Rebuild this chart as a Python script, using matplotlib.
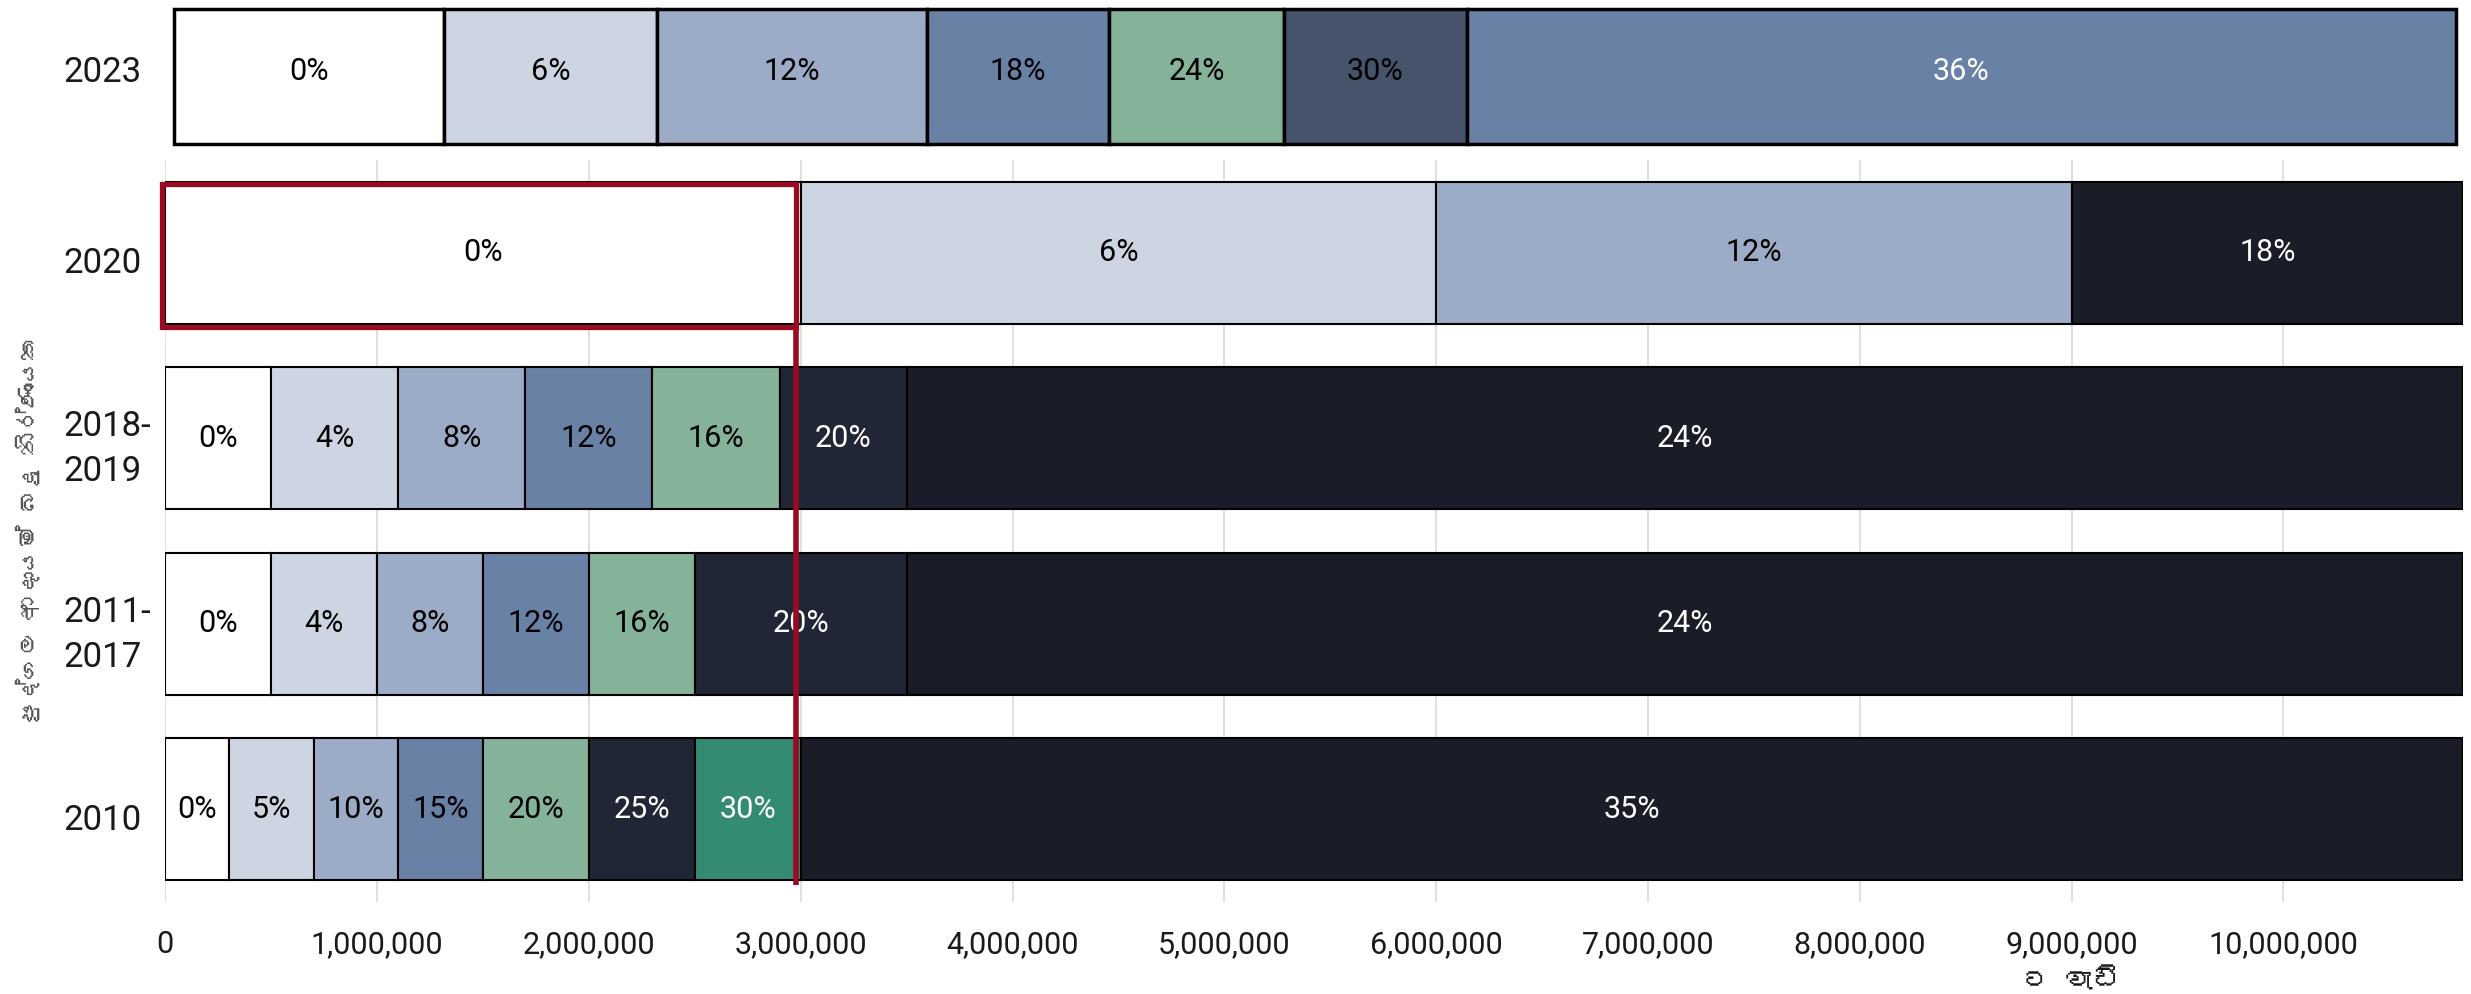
import matplotlib
matplotlib.use('Agg')
import matplotlib.pyplot as plt
from matplotlib import font_manager as fm
from matplotlib.ft2font import FT2Font
from matplotlib.patches import Rectangle
from matplotlib.ticker import FuncFormatter
import matplotlib.transforms as mtrans

plt.rcParams['font.family'] = ['Roboto', 'DejaVu Sans']
plt.rcParams['text.color'] = '#1a1a1a'


def find_family(ch):
    # look for an installed font that has the glyph (Sinhala here)
    for f in fm.fontManager.ttflist:
        try:
            if ord(ch) in FT2Font(f.fname).get_charmap():
                return f.name
        except Exception:
            pass
    return None


sin_fam = find_family('ද')
sin_family = [sin_fam, 'DejaVu Sans'] if sin_fam else ['Roboto', 'DejaVu Sans']

# ---- data ----
chart_end = 10850000  # where the open top bracket is cut off

years = ['2010', '2011-\n2017', '2018-\n2019', '2020']

upper_2010 = [300000, 700000, 1100000, 1500000, 2000000, 2500000, 3000000, chart_end]
rates_2010 = [0, 5, 10, 15, 20, 25, 30, 35]

upper_2011 = [500000, 1000000, 1500000, 2000000, 2500000, 3500000, chart_end]
rates_2011 = [0, 4, 8, 12, 16, 20, 24]

upper_2018 = [500000, 1100000, 1700000, 2300000, 2900000, 3500000, chart_end]
rates_2018 = [0, 4, 8, 12, 16, 20, 24]

upper_2020 = [3000000, 6000000, 9000000, chart_end]
rates_2020 = [0, 6, 12, 18]

# 2023 bar is drawn on its own strip, widths as measured on the picture
widths_2023 = [1275000, 1005000, 1275000, 860000, 826000, 864000, 4670000]
rates_2023 = [0, 6, 12, 18, 24, 30, 36]

xticks = [0, 1000000, 2000000, 3000000, 4000000, 5000000, 6000000,
          7000000, 8000000, 9000000, 10000000]

# ---- styles ----
W = '#ffffff'
L1 = '#ced5e2'
L2 = '#9dacc6'
BL = '#6a81a6'
GR = '#84b39a'
NV = '#212636'
TL = '#338b71'
BK = '#1a1d28'
SL = '#46546b'
RED = '#9b0a23'

fill_2010 = [W, L1, L2, BL, GR, NV, TL, BK]
fill_2011 = [W, L1, L2, BL, GR, NV, BK]
fill_2018 = [W, L1, L2, BL, GR, NV, BK]
fill_2020 = [W, L1, L2, BK]
fill_2023 = [W, L1, L2, BL, GR, SL, BL]

txt_2010 = ['k', 'k', 'k', 'k', 'k', 'w', 'w', 'w']
txt_2011 = ['k', 'k', 'k', 'k', 'k', 'w', 'w']
txt_2018 = ['k', 'k', 'k', 'k', 'k', 'w', 'w']
txt_2020 = ['k', 'k', 'k', 'w']
txt_2023 = ['k', 'k', 'k', 'k', 'k', 'k', 'w']

rows = [(upper_2010, rates_2010, fill_2010, txt_2010),
        (upper_2011, rates_2011, fill_2011, txt_2011),
        (upper_2018, rates_2018, fill_2018, txt_2018),
        (upper_2020, rates_2020, fill_2020, txt_2020)]

fig = plt.figure(figsize=(24.71, 9.94), dpi=100)

# ---- main chart ----
ax = fig.add_axes([0.0669, 0.0926, 0.930, 0.7465])
bar_h = 0.765
for i, (upper, rates, fills, tcols) in enumerate(rows):
    lefts = [0] + upper[:-1]
    widths = [u - l for u, l in zip(upper, lefts)]
    ax.barh(i, widths, left=lefts, height=bar_h, color=fills,
            edgecolor='black', linewidth=1.5, zorder=3)
    for l, w, r, tc in zip(lefts, widths, rates, tcols):
        ax.text(l + w / 2, i, f'{r}%', ha='center', va='center',
                fontsize=22, color=tc, zorder=5)

ax.set_xlim(0, chart_end)
ax.set_ylim(-0.5, 3.5)
ax.set_xticks(xticks)
ax.xaxis.set_major_formatter(FuncFormatter(lambda v, p: f'{int(v):,}'))
ax.tick_params(axis='x', labelsize=22, length=0, pad=20, colors='#1a1a1a')
ax.set_yticks([])
ax.grid(axis='x', color='#dddddd', linewidth=1.3, zorder=0)
ax.set_axisbelow(True)
for s in ax.spines.values():
    s.set_visible(False)

# year labels, left aligned
tr = mtrans.blended_transform_factory(fig.transFigure, ax.transData)
for i, y in enumerate(years):
    ax.text(0.0255, i - 0.06, y, transform=tr, ha='left', va='center',
            fontsize=25, linespacing=1.45)

# highlight: 2020 tax free band and the 3M line
ax.add_patch(Rectangle((-15000, 2.60), 2995000, 0.77, fill=False,
                       edgecolor=RED, linewidth=3.8, zorder=6, clip_on=False))
ax.plot([2980000, 2980000], [2.60, -0.41], color=RED, linewidth=4,
        zorder=6, clip_on=False, solid_capstyle='butt')

# ---- 2023 strip ----
ax2 = fig.add_axes([0.0704, 0.8524, 0.9235, 0.1413])
lefts23 = [sum(widths_2023[:k]) for k in range(len(widths_2023))]
ax2.barh(0, widths_2023, left=lefts23, height=1.0, color=fill_2023,
         edgecolor='black', linewidth=2.5, clip_on=False)
for l, w, r, tc in zip(lefts23, widths_2023, rates_2023, txt_2023):
    ax2.text(l + w / 2, 0.04, f'{r}%', ha='center', va='center',
             fontsize=22, color=tc)
ax2.set_xlim(0, sum(widths_2023))
ax2.set_ylim(-0.52, 0.52)
ax2.axis('off')
fig.text(0.0255, 1 - 72 / 994, '2023', ha='left', va='center', fontsize=25)

# axis titles
fig.text(0.0113, 0.467, 'පුද්ගල ආදායම් බදු නිර්ණායක', rotation=90,
         ha='center', va='center', fontsize=17, color='#555555',
         family=sin_family)
fig.text(0.8385, 0.014, 'ට වැඩි', ha='center', va='center', fontsize=20,
         family=sin_family)

fig.savefig('out.png', dpi=100)
